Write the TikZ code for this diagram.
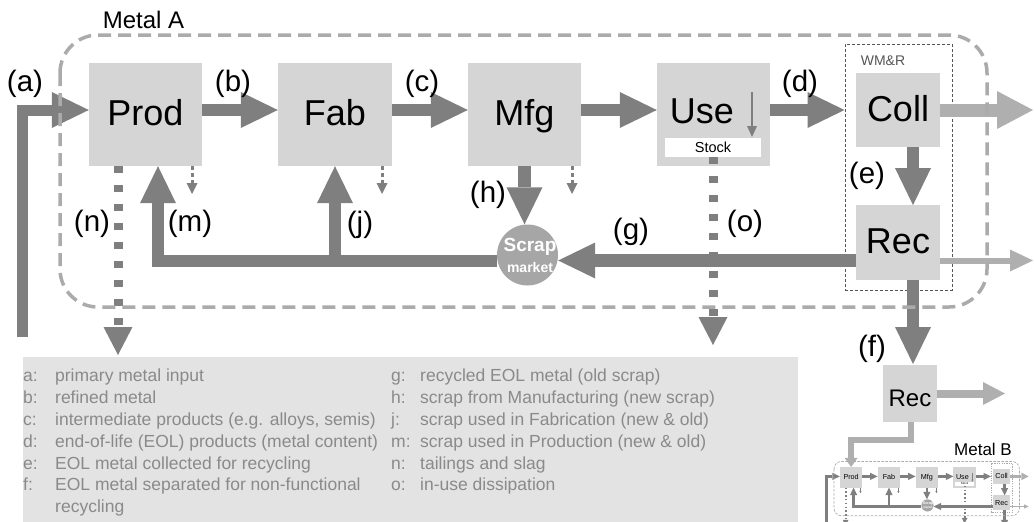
\documentclass[tikz,border=0pt]{standalone}
\usepackage{fontspec}
\setmainfont{Liberation Sans}
\usetikzlibrary{arrows.meta}
\definecolor{boxc}{HTML}{D5D5D5}
\definecolor{arrowc}{HTML}{7F7F7F}
\definecolor{lightc}{HTML}{AFAFAF}
\definecolor{dashc}{HTML}{ABABAB}
\definecolor{scrapc}{HTML}{A6A6A6}
\definecolor{legc}{HTML}{E3E3E3}
\definecolor{legtext}{HTML}{8A8A8A}
\definecolor{wmrc}{HTML}{555555}
\newcommand\myfs[1]{\fontsize{#1pt}{#1pt}\selectfont}
\newcommand\setdims[1]{%
  \pgfmathsetmacro\wA{12.5*#1}\pgfmathsetmacro\lA{37*#1}\pgfmathsetmacro\hA{36*#1}%
  \pgfmathsetmacro\wAa{11*#1}%
  \pgfmathsetmacro\wC{13*#1}\pgfmathsetmacro\lC{36*#1}\pgfmathsetmacro\hC{38*#1}%
  \pgfmathsetmacro\wB{6*#1}\pgfmathsetmacro\lB{23*#1}\pgfmathsetmacro\hB{22*#1}%
  \pgfmathsetmacro\wD{9*#1}\pgfmathsetmacro\lD{28*#1}\pgfmathsetmacro\hD{29*#1}%
  \pgfmathsetmacro\dOn{7*#1}\pgfmathsetmacro\dOff{12*#1}%
  \pgfmathsetmacro\wS{3*#1}\pgfmathsetmacro\lS{11*#1}\pgfmathsetmacro\hS{11*#1}%
  \pgfmathsetmacro\sOn{4*#1}\pgfmathsetmacro\sOff{3*#1}%
  \pgfmathsetmacro\wU{2.5*#1}\pgfmathsetmacro\lU{11*#1}\pgfmathsetmacro\hU{10*#1}%
  \pgfmathsetmacro\wG{3.5*#1}\pgfmathsetmacro\gOn{13*#1}\pgfmathsetmacro\gOff{7*#1}\pgfmathsetmacro\rG{38*#1}%
  \pgfmathsetmacro\wW{max(1*#1,0.5)}\pgfmathsetmacro\wOn{max(3*#1,1.2)}\pgfmathsetmacro\wOff{max(2*#1,1.2)}%
}
\tikzset{
  box/.style={fill=boxc, inner sep=0pt, minimum width=113pt, minimum height=103pt,
    font=\myfs{36}, text height=26pt, text depth=4pt},
  cbox/.style={box, minimum width=84pt, minimum height=74.5pt},
  plaintext/.style={inner sep=0pt, font=\myfs{36}},
  stockbox/.style={fill=white, inner sep=0pt, minimum width=96pt, minimum height=19pt,
    font=\myfs{14.5}, text height=10.4pt, text depth=0pt},
  wmrbox/.style={draw=wmrc, line width=\wW pt, dash pattern=on \wOn pt off \wOff pt,
    minimum width=107pt, minimum height=246pt, inner sep=0pt},
  scrapnode/.style={circle, fill=scrapc, minimum size=61pt, inner sep=0pt},
  scraptext/.style={text=white, inner sep=0pt, font=\bfseries\myfs{19}},
  markettext/.style={text=white, inner sep=0pt, font=\bfseries\myfs{14}},
  groupbox/.style={draw=dashc, line width=\wG pt, dash pattern=on \gOn pt off \gOff pt,
    rounded corners=\rG pt},
  flow/.style={draw=arrowc, line width=\wA pt, line join=miter,
    -{Triangle[length=\lA pt, width=\hA pt, line width=0pt]}},
  flowa/.style={flow, line width=\wAa pt},
  lightflow/.style={draw=lightc, line width=\wC pt,
    -{Triangle[length=\lC pt, width=\hC pt, line width=0pt]}},
  lightthin/.style={draw=lightc, line width=\wB pt,
    -{Triangle[length=\lB pt, width=\hB pt, line width=0pt]}},
  dotflow/.style={draw=arrowc, line width=\wD pt, dash pattern=on \dOn pt off \dOff pt,
    -{Triangle[length=\lD pt, width=\hD pt, line width=0pt]}},
  smallflow/.style={draw=arrowc, line width=\wS pt, dash pattern=on \sOn pt off \sOff pt,
    -{Triangle[length=\lS pt, width=\hS pt, line width=0pt]}},
  useflow/.style={draw=arrowc, line width=\wU pt,
    -{Triangle[length=\lU pt, width=\hU pt, line width=0pt]}},
  lbl/.style={inner sep=0pt, font=\myfs{29.5}, text height=21pt, text depth=6pt},
  legtxt/.style={inner sep=0pt, anchor=north west, align=left, text=legtext,
    font=\fontsize{17.5pt}{21.8pt}\selectfont},
}
\newcommand\metalcore{%
  \node[box] (Prod) at (145.5,114.5) {Prod};
  \node[box, minimum width=114pt] (Fab) at (335,114.5) {Fab};
  \node[box] (Mfg) at (524.5,114.5) {Mfg};
  \node[box] (Use) at (713.5,114.5) {};
  \node[plaintext, anchor=base] (UseT) at (702,123) {Use};
  \node[stockbox] (Stock) at (713,147.5) {Stock};
  \node[wmrbox] (WMR) at (898.5,167) {};
  \node[cbox] (Coll) at (898,110) {Coll};
  \node[cbox] (Rec) at (898,242.5) {Rec};
  \node[scrapnode] (Scrap) at (527.5,255) {};
  \node[scraptext, anchor=base] (ScrapT) at (530,251) {Scrap};
  \node[markettext, anchor=base] (ScrapM) at (530,272) {market};
  \coordinate (row) at (0,110);
  \coordinate (gl) at (0,260.5);
  \coordinate (ml) at (158,261);
  \coordinate (jl) at (335,261);
  \coordinate (a0) at (22,337);
  \coordinate (ex) at (913,0);
  \coordinate (nend) at (118,355);
  \coordinate (oend) at (713,345);
  \coordinate (s1) at (192,194);
  \coordinate (s2) at (382,194);
  \coordinate (s3) at (572,194);
  \coordinate (u1) at (752,92);
  \coordinate (u2) at (752,137);
  \coordinate (cout) at (1033,110);
  \coordinate (rout) at (1033,260.5);
  \coordinate (fend) at (913,364);
  \draw[flowa] (a0) |- (Prod.west |- row);
  \draw[flow] (Prod.east |- row) -- (Fab.west |- row);
  \draw[flow] (Fab.east |- row) -- (Mfg.west |- row);
  \draw[flow] (Mfg.east |- row) -- (Use.west |- row);
  \draw[flow] (Use.east |- row) -- (WMR.west |- row);
  \draw[lightflow] (Coll.east |- row) -- (cout);
  \draw[flow] (Coll.south -| ex) -- (Rec.north -| ex);
  \draw[flow] (Rec.south -| ex) -- (fend);
  \draw[flow] (Rec.west |- gl) -- (Scrap.east |- gl);
  \draw[lightthin] (Rec.east |- gl) -- (rout);
  \draw[flow] (Mfg.south) -- (Mfg.south |- Scrap.north);
  \draw[flow] (Scrap.west |- ml) -| (Prod.south -| ml);
  \draw[flow] (jl) -- (Fab.south -| jl);
  \draw[dotflow] (Prod.south -| nend) -- (nend);
  \draw[dotflow] (Stock.south) -- (oend);
  \draw[smallflow] (Prod.south -| s1) -- (s1);
  \draw[smallflow] (Fab.south -| s2) -- (s2);
  \draw[smallflow] (Mfg.south -| s3) -- (s3);
  \draw[useflow] (u1) -- (u2);
  \draw[groupbox] (60,35) rectangle (987,307);
}
\begin{document}
\begin{tikzpicture}[x=1pt, y=-1pt]
\useasboundingbox (0,0) rectangle (1034,522);
% legend
\node[fill=legc, inner sep=0pt, minimum width=775pt, minimum height=175pt, anchor=north west] (legend) at (23,357) {};
\node[legtxt] (legL) at (23,369) {%
\makebox[32pt][l]{a:}primary metal input\\
\makebox[32pt][l]{b:}refined metal\\
\makebox[32pt][l]{c:}intermediate products (e.g. alloys, semis)\\
\makebox[32pt][l]{d:}end-of-life (EOL) products (metal content)\\
\makebox[32pt][l]{e:}EOL metal collected for recycling\\
\makebox[32pt][l]{f:}EOL metal separated for non-functional\\
\makebox[32pt][l]{}recycling};
\node[legtxt] (legR) at (391,369) {%
\makebox[29pt][l]{g:}recycled EOL metal (old scrap)\\
\makebox[29pt][l]{h:}scrap from Manufacturing (new scrap)\\
\makebox[29pt][l]{j:}scrap used in Fabrication (new \& old)\\
\makebox[29pt][l]{m:}scrap used in Production (new \& old)\\
\makebox[29pt][l]{n:}tailings and slag\\
\makebox[29pt][l]{o:}in-use dissipation};
% metal A
\setdims{1}
\metalcore
\node[inner sep=0pt, font=\myfs{24}, text height=17pt, text depth=0pt] (titleA) at (143.5,19.5) {Metal A};
\node[inner sep=0pt, font=\myfs{14}, text=wmrc, text height=10pt, text depth=0pt] (wmrT) at (883,60) {WM\&R};
\node[lbl] (la) at (25,84) {(a)};
\node[lbl] (lb) at (233,84) {(b)};
\node[lbl] (lc) at (422,84) {(c)};
\node[lbl] (ld) at (800,84) {(d)};
\node[lbl] (le) at (867,176) {(e)};
\node[lbl] (lf) at (872,349) {(f)};
\node[lbl] (lg) at (631,232) {(g)};
\node[lbl] (lh) at (488,195) {(h)};
\node[lbl] (lj) at (360,225) {(j)};
\node[lbl] (lm) at (190,224) {(m)};
\node[lbl] (ln) at (92,224) {(n)};
\node[lbl] (lo) at (745,224) {(o)};
% recycling into metal B
\node[box, minimum width=54pt, minimum height=57pt, font=\myfs{24}, text height=25pt, text depth=0pt] (RecB) at (910,393.5) {Rec};
\coordinate (rbout) at (1005,393.5);
\coordinate (rb1) at (911,440);
\draw[lightflow, line width=8pt, -{Triangle[length=22pt, width=23pt, line width=0pt]}] (RecB.east) -- (rbout);
\node[inner sep=0pt, font=\myfs{17}, text height=12.2pt, text depth=0pt] (titleB) at (983,449.5) {Metal B};
% metal B (miniature)
\begin{scope}[shift={(822,454.4)}, scale=0.2, transform shape, name prefix=B-]
\tikzset{wmrbox/.append style={draw=dashc}}
\setdims{0.2}
\metalcore
\end{scope}
\draw[lightflow, line width=6pt, line join=miter, -{Triangle[length=9pt, width=13pt, line width=0pt]}] (RecB.south -| rb1) -- (rb1) -| (B-Prod.north);
\end{tikzpicture}
\end{document}
